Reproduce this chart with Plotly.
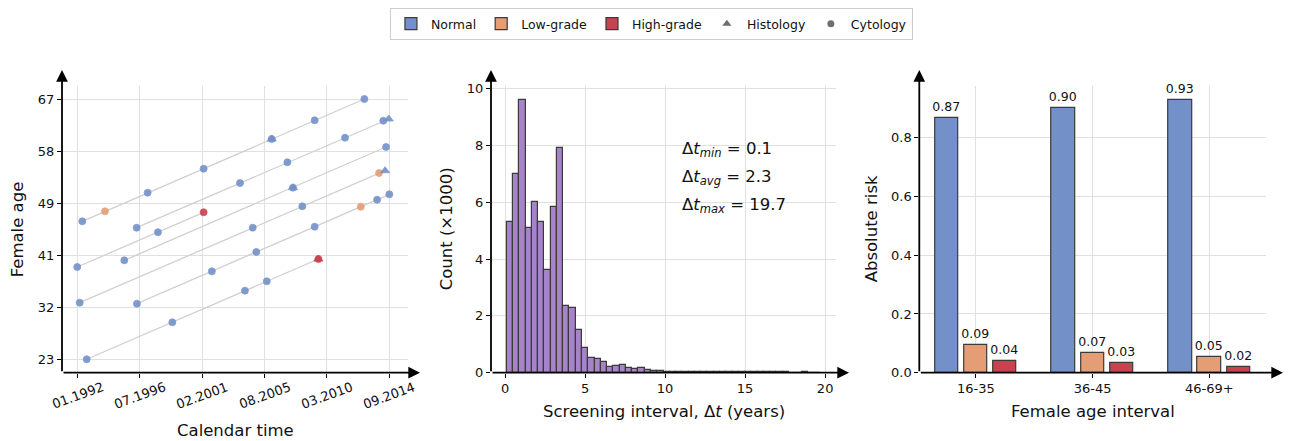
import numpy as np
import plotly.graph_objects as go

W, H = 1290, 441
FONT = "DejaVu Sans"

# ---------------- data ----------------
# Panel 1: screening histories (calendar time in decimal years, female age)
woman_dates = [
    [1992.34, 1993.99, 1997.10, 2001.18, 2006.14, 2006.14, 2009.27, 2012.89],
    [1996.30, 2003.83, 2007.28, 2011.48, 2014.27, 2014.67],
    [1995.40, 2007.69, 2007.69, 2014.47],
    [1991.97, 1997.85, 2001.18],
    [1992.15, 2004.76, 2008.37, 2013.96, 2014.40],
    [1996.32, 2001.78, 2005.02, 2009.27, 2012.63, 2013.82, 2014.71],
    [1992.66, 1998.90, 2004.19, 2005.78, 2009.54, 2009.54],
]
woman_ages = [
    [46.33, 48.02, 51.16, 55.22, 60.24, 60.24, 63.40, 67.00],
    [45.24, 52.80, 56.30, 60.46, 63.33, 63.62],
    [39.73, 52.01, 52.01, 58.89],
    [38.60, 44.47, 47.85],
    [32.57, 45.24, 48.86, 54.49, 54.88],
    [32.40, 37.87, 41.14, 45.41, 48.79, 49.98, 50.89],
    [23.00, 29.25, 34.60, 36.18, 39.95, 39.95],
]
woman_grades = [
    ["N", "L", "N", "N", "N", "N", "N", "N"],
    ["N", "N", "N", "N", "N", "N"],
    ["N", "N", "N", "N"],
    ["N", "N", "H"],
    ["N", "N", "N", "L", "N"],
    ["N", "N", "N", "N", "L", "N", "N"],
    ["N", "N", "N", "N", "H", "H"],
]
woman_tests = [
    ["C", "C", "C", "C", "C", "H", "C", "C"],
    ["C", "C", "C", "C", "C", "H"],
    ["C", "C", "H", "C"],
    ["C", "C", "C"],
    ["C", "C", "C", "C", "H"],
    ["C", "C", "C", "C", "C", "C", "C"],
    ["C", "C", "C", "C", "C", "H"],
]
time_tickvals = [1992.0, 1996.54, 2001.08, 2005.62, 2010.16, 2014.70]
time_ticktext = ["01.1992", "07.1996", "02.2001", "08.2005", "03.2010", "09.2014"]
age_tickvals = [23.0, 31.8, 40.6, 49.4, 58.2, 67.0]
age_ticktext = ["23", "32", "41", "49", "58", "67"]

# Panel 2: histogram of screening intervals (counts in thousands)
interval_min, interval_max, n_bins = 0.1, 19.7, 50
interval_counts = [5.32, 7.0, 9.61, 5.08, 6.0, 5.3, 3.61, 5.83, 7.9, 2.36,
                   2.29, 1.52, 0.86, 0.51, 0.47, 0.36, 0.2, 0.24, 0.27, 0.15,
                   0.12, 0.15, 0.08, 0.06, 0.05, 0.04, 0.03, 0.03, 0.02, 0.02,
                   0.02, 0.01, 0.02, 0.01, 0.01, 0.01, 0.01, 0.01, 0.01, 0.01,
                   0.01, 0.01, 0.01, 0.01, 0.01, 0.005, 0.005, 0.01, 0.005, 0.005]
interval_stats = [("min", "0.1"), ("avg", "2.3"), ("max", "19.7")]

# Panel 3: absolute risk per age interval
age_groups = ["16-35", "36-45", "46-69+"]
risk_normal = [0.867, 0.902, 0.928]
risk_low = [0.094, 0.068, 0.054]
risk_high = [0.039, 0.032, 0.019]

# ---------------- styles ----------------
C_N = "#7391c8"
C_L = "#e49d75"
C_H = "#c8434f"
C_HIST = "#a783c9"
GRID = "#e0e0e0"
colors = {"N": C_N, "L": C_L, "H": C_H}

def px2x(px):
    return px / W

def px2y(py):
    return 1 - py / H

ybot, ytop = 372.7, 86.0
dom_y = [px2y(ybot), px2y(ytop)]
p1 = (62.0, 408.0)
p2 = (491.0, 836.0)
p3 = (919.3, 1266.0)

fig = go.Figure()

# ---- panel 1 ----
for d, a in zip(woman_dates, woman_ages):
    fig.add_trace(go.Scatter(x=[min(d), max(d)],
                             y=[a[d.index(min(d))], a[d.index(max(d))]],
                             mode="lines", line=dict(color="#d0d0d0", width=1.3),
                             showlegend=False, hoverinfo="skip", xaxis="x", yaxis="y"))
for test, sym, size in [("C", "circle", 7), ("H", "triangle-up", 8)]:
    for g in ["N", "L", "H"]:
        xs, ys = [], []
        for d, a, gr, ts in zip(woman_dates, woman_ages, woman_grades, woman_tests):
            for xi, yi, gi, ti in zip(d, a, gr, ts):
                if gi == g and ti == test:
                    xs.append(xi)
                    ys.append(yi)
        if xs:
            fig.add_trace(go.Scatter(x=xs, y=ys, mode="markers",
                                     marker=dict(symbol=sym, size=size, color=colors[g],
                                                 opacity=0.9,
                                                 line=dict(color=colors[g], width=0.8)),
                                     showlegend=False, xaxis="x", yaxis="y"))

# ---- panel 2 ----
edges = np.linspace(interval_min, interval_max, n_bins + 1)
centers = (edges[:-1] + edges[1:]) / 2
bw = edges[1] - edges[0]
fig.add_trace(go.Bar(x=centers, y=interval_counts, width=bw,
                     marker=dict(color=C_HIST, line=dict(color="#3a3a3a", width=1.2)),
                     showlegend=False, xaxis="x2", yaxis="y2"))

# ---- panel 3 ----
idx = np.arange(len(age_groups))
for vals, col, name, off in [(risk_normal, C_N, "Normal", -0.25),
                             (risk_low, C_L, "Low-grade", 0.0),
                             (risk_high, C_H, "High-grade", 0.25)]:
    fig.add_trace(go.Bar(x=idx + off, y=vals, width=0.2, name=name,
                         marker=dict(color=col, line=dict(color="#3a3a3a", width=1.2)),
                         text=[f"{v:.2f}" for v in vals], textposition="outside",
                         constraintext="none", cliponaxis=False,
                         textfont=dict(size=12.5, color="#111111", family=FONT),
                         xaxis="x3", yaxis="y3"))

# legend-only markers
fig.add_trace(go.Scatter(x=[None], y=[None], mode="markers", name="Histology",
                         marker=dict(symbol="triangle-up", size=8, color="#6e6e6e"),
                         xaxis="x", yaxis="y"))
fig.add_trace(go.Scatter(x=[None], y=[None], mode="markers", name="Cytology",
                         marker=dict(symbol="circle", size=7, color="#6e6e6e"),
                         xaxis="x", yaxis="y"))

axcommon = dict(showline=False, zeroline=False, showgrid=True, gridcolor=GRID, gridwidth=1,
                ticks="outside", ticklen=4, tickwidth=1.3, tickcolor="black",
                tickfont=dict(size=13, family=FONT, color="#111111"), automargin=False)

fig.update_layout(
    width=W, height=H, margin=dict(l=0, r=0, t=0, b=0),
    plot_bgcolor="white", paper_bgcolor="white",
    font=dict(family=FONT, color="#111111"),
    barmode="overlay", bargap=0,
    xaxis=dict(domain=[px2x(p1[0]), px2x(p1[1])], range=[1990.86, 2016.07],
               tickvals=time_tickvals, ticktext=time_ticktext, showticklabels=False,
               anchor="y", **axcommon),
    yaxis=dict(domain=dom_y, range=[20.73, 69.2], tickvals=age_tickvals,
               ticktext=age_ticktext, anchor="x", **axcommon),
    xaxis2=dict(domain=[px2x(p2[0]), px2x(p2[1])], range=[-0.88, 20.68],
                tickvals=[0, 5, 10, 15, 20], anchor="y2", **axcommon),
    yaxis2=dict(domain=dom_y, range=[0, 10.09], tickvals=[0, 2, 4, 6, 8, 10],
                anchor="x2", **axcommon),
    xaxis3=dict(domain=[px2x(p3[0]), px2x(p3[1])], range=[-0.485, 2.485],
                tickvals=list(idx), ticktext=age_groups, anchor="y3", **axcommon),
    yaxis3=dict(domain=dom_y, range=[0, 0.9765], tickvals=[0, 0.2, 0.4, 0.6, 0.8],
                ticktext=["0.0", "0.2", "0.4", "0.6", "0.8"], anchor="x3", **axcommon),
    legend=dict(orientation="h", x=0.505, xanchor="center", y=px2y(8), yanchor="top",
                font=dict(size=12.5, family=FONT, color="#111111"),
                bordercolor="#cccccc", borderwidth=1, bgcolor="white",
                traceorder="normal"),
)

ann = []
# rotated x tick labels panel 1
for tv, tt in zip(time_tickvals, time_ticktext):
    ann.append(dict(x=tv, xref="x", y=px2y(395), yref="paper", text=tt, showarrow=False,
                    textangle=-20, xanchor="center", yanchor="middle",
                    font=dict(size=13, family=FONT, color="#111111")))
# axis titles
tf = dict(size=16.5, family=FONT, color="#111111")
ymid = px2y((ybot + ytop) / 2)
titles = [
    dict(x=px2x(17), y=ymid, text="Female age", textangle=-90),
    dict(x=px2x((p1[0] + p1[1]) / 2), y=px2y(430), text="Calendar time"),
    dict(x=px2x(446), y=ymid, text="Count (×1000)", textangle=-90),
    dict(x=px2x((p2[0] + p2[1]) / 2), y=px2y(411.5),
         text="Screening interval, Δ<i>t</i> (years)"),
    dict(x=px2x(871), y=ymid, text="Absolute risk", textangle=-90),
    dict(x=px2x((p3[0] + p3[1]) / 2), y=px2y(411.5), text="Female age interval"),
]
for a in titles:
    a.update(xref="paper", yref="paper", showarrow=False, xanchor="center",
             yanchor="middle", font=tf)
ann += titles
# stats text
for i, (sub, val) in enumerate(interval_stats):
    ann.append(dict(x=px2x(680), y=px2y(149 + 28 * i), xref="paper", yref="paper",
                    text=f"Δ<i>t</i><sub><i>{sub}</i></sub> = {val}", showarrow=False,
                    xanchor="left", yanchor="middle",
                    font=dict(size=16.5, family=FONT, color="#111111")))
# spines with arrowheads
def arrow(x0, y0, x1, y1):
    return dict(x=px2x(x1), y=px2y(y1), xref="paper", yref="paper",
                ax=x0 - x1, ay=y0 - y1, axref="pixel", ayref="pixel",
                text="", showarrow=True, arrowhead=2, arrowsize=1.3,
                arrowwidth=1.8, arrowcolor="black", standoff=0)
for (xl, xr), xtip in [(p1, 420), (p2, 849), (p3, 1283)]:
    ann.append(arrow(xl, ybot, xl, 70))
    ann.append(arrow(xl, ybot, xtip, ybot))

fig.update_layout(annotations=ann)
fig.write_html("out.html", config={"displayModeBar": False},
               post_script="document.body.style.margin='0px';")
